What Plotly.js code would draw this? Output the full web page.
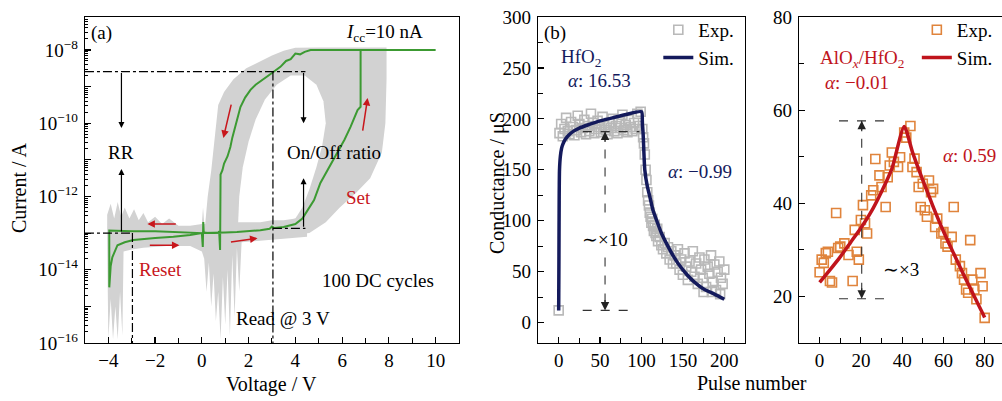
<!DOCTYPE html>
<html><head><meta charset="utf-8">
<script src="https://cdn.plot.ly/plotly-3.0.1.min.js"></script>
<style>html,body{margin:0;padding:0;background:#fff}#chart{width:1002px;height:401px}</style>
</head><body><div id="chart"></div>
<script>
// ---------- Panel (a): I-V, current as log10 exponent ----------
const greenV = [0,0.5,1.0,1.5,2.0,2.5,2.9,3.0,3.1,3.5,4.0,4.3,4.5,4.8,5.07,5.4,5.8,6.1,6.36,6.5,6.66,6.79,6.79,10,
  4.65,4.4,4.2,4.0,3.8,3.6,3.36,3.0,2.5,2.3,2.08,1.85,1.65,1.5,1.37,1.3,1.22,1.1,0.95,0.88,0.8,0.78,0.74,0.7,0.3,0.08,0.06,0.04,0,
  -1,-2,-3,-3.5,-3.96,-3.96,-3.9,-3.83,-3.7,-3.61,-3.3,-2.93,-2.0,-1.22,-0.5,0];
const greenLogI = [-13.0,-13.0,-12.98,-12.97,-12.95,-12.92,-12.88,-12.82,-12.86,-12.83,-12.75,-12.6,-12.4,-12.1,-11.63,-11.25,-10.81,-10.45,-10.1,-9.9,-9.64,-9.55,-8.0,-8.0,
  -8.0,-8.05,-8.12,-8.1,-8.25,-8.3,-8.46,-8.63,-8.85,-8.95,-9.09,-9.3,-9.56,-9.9,-10.27,-10.4,-10.65,-10.9,-11.1,-11.28,-11.4,-13.46,-12.95,-13.0,-13.0,-12.98,-12.7,-13.38,-13.0,
  -12.97,-12.95,-12.95,-12.93,-12.93,-14.48,-13.9,-13.66,-13.45,-13.33,-13.25,-13.19,-13.13,-13.1,-13.05,-13.0];

// gray envelope of the 100 cycles (outline of the shaded region)
const bandV = [0.15,0.25,0.4,0.5,0.6,0.7,0.95,1.35,1.9,2.5,3.0,3.5,4.0,5.0,7.9,7.9,7.85,7.7,7.2,6.6,5.9,5.3,4.6,1.6,0.15];
const bandLogI = [-12.7,-12.0,-11.3,-10.7,-10.0,-9.5,-9.15,-8.8,-8.5,-8.3,-8.15,-8.02,-7.94,-7.93,-7.93,-8.8,-10.0,-10.8,-11.5,-11.9,-12.3,-12.7,-13.0,-13.2,-13.1];
const holeV = [1.55,1.6,1.75,2.0,2.3,2.7,3.2,3.8,4.4,4.9,5.2,5.3,5.15,4.9,4.6,4.3,4.0,3.5,2.5,1.55];
const holeLogI = [-12.75,-12.0,-11.2,-10.5,-9.9,-9.35,-8.95,-8.7,-8.7,-8.95,-9.4,-10.0,-10.6,-11.2,-11.8,-12.3,-12.6,-12.72,-12.75,-12.75];
const floorV = [-4.05,-3.9,-3.75,-3.6,-3.45,-3.3,-3.1,-2.9,-2.7,-2.5,-2.3,-2.0,-1.7,-1.4,-1.0,-0.5,0,0.05,0.1,0.5,1.5,2.5,3.0,3.5,4.0,4.5,
  4.5,3.5,2.5,1.7,1.6,1.5,1.4,1.3,1.2,1.1,1.0,0.9,0.8,0.7,0.6,0.5,0.4,0.3,0.2,0.1,0.0,-0.5,-1.5,-2.5,-3.0,-3.35,-3.4,-3.5,-3.6,-3.7,-3.8,-3.9,-4.0,-4.05];
const floorLogI = [-12.5,-12.2,-12.6,-12.15,-12.55,-12.3,-12.6,-12.35,-12.65,-12.45,-12.7,-12.55,-12.75,-12.6,-12.8,-12.8,-12.75,-12.3,-12.75,-12.7,-12.7,-12.7,-12.65,-12.65,-12.6,-12.5,
  -13.1,-13.15,-13.2,-13.25,-14.6,-13.4,-15.3,-13.6,-15.8,-14.0,-15.5,-14.2,-15.9,-14.6,-15.4,-14.1,-15.0,-13.8,-14.6,-13.7,-13.5,-13.35,-13.35,-13.4,-13.45,-13.5,-15.8,-14.6,-15.9,-15.0,-15.9,-14.8,-15.9,-13.2];

// guide lines (dash-dot)
const onLevel = -8.59, offLevel = -13.0, offLevelR = -12.87, readV = 3.04, resetReadV = -2.97;

// ---------- Panel (b): HfO2 ----------
const bExpX = [0,1,3,5,7,9,11,13,15,17,19,21,23,25,27,29,31,33,35,37,39,41,43,45,47,49,51,53,55,57,59,61,63,65,67,69,71,73,75,77,79,81,83,85,87,89,91,93,95,97,99,
  101,102,103,104,105,106,107,108,109,110,111,112,113,114,115,116,117,118,119,120,122,124,126,128,130,132,134,136,138,
  140,142,144,146,148,150,152,154,156,158,160,162,164,166,168,170,172,174,175,176,178,180,182,184,185,186,188,190,192,194,195,196,198,200];
const bExpY = [12,186,195,183,190,201,188,185,197,192,184,189,203,195,187,191,199,185,193,188,205,196,186,190,198,192,187,202,194,189,185,196,191,200,188,193,186,197,191,204,189,194,187,199,192,188,196,190,205,193,207,
  190,182,176,165,150,140,128,120,115,108,104,98,102,95,90,96,88,85,92,80,84,76,72,78,68,74,62,70,58,
  66,58,72,52,62,47,68,55,42,60,50,70,45,58,38,64,52,44,30,62,35,55,48,66,30,40,57,32,50,60,28,44,38,52];
const bSimX = [0,0.3,0.6,1,2,3.5,5,8,12,18,25,35,50,65,80,100,101,102,104,107,110,114,118,124,130,138,146,155,165,175,188,200];
const bSimY = [12,60,120,150,163,171,175,180,184,188,191,194,198,201,204,207,196,185,150,134,124,110,101,88,78,66,56,47,39,33,28,23];

// ---------- Panel (c): AlOx/HfO2 ----------
const cExpX = [0,1,2,3,4,5,6,8,9,10,12,14,16,17,18,19,20,21,22,23,25,26,27,29,30,32,33,34,35,36,38,39,41,42,44,45,46,47,48,49,50,51,52,53,54,55,56,57,59,60,61,62,64,65,66,68,69,70,71,72,73,74,75,76,78,79,80];
const cExpY = [25.2,27.9,27.2,29.3,29.6,23.3,23.0,37.9,30.4,30.7,31.4,28.9,23.3,34.3,29.6,27.9,36.4,39.6,35.7,33.5,41.7,42.8,49.5,46.0,43.5,39.2,45.6,48.1,50.9,48.9,47.8,49.9,55.2,54.1,56.6,47.8,49.6,46.7,43.5,39.2,44.2,38.5,37.1,44.9,42.4,43.1,34.9,36.7,33.5,33.8,31.4,30.7,32.8,39.2,27.9,26.5,25.0,23.6,21.5,20.8,32.1,23.6,21.5,19.4,25.0,22.2,15.4];
const cSimX = [0,5,10,15,20,25,30,35,41,45,50,55,60,65,70,75,80];
const cSimY = [23,25.7,28.5,31.6,34.7,38.2,42.5,47.4,56.5,51,45,39.3,34,29.2,24.5,20,15.5];

const pow10 = a => a.map(v => Math.pow(10, v));
const SERIF = 'Liberation Serif, Times New Roman, serif';
const GRAY = '#d2d2d2', GREEN = '#3c9a32', RED = '#c8161c', NAVY = '#141a5c', ORANGE = '#e0843c', CRED = '#c0141c';

const traces = [
  {x: bandV, y: pow10(bandLogI), xaxis:'x', yaxis:'y', mode:'lines', fill:'toself', fillcolor:GRAY, line:{width:0, color:GRAY}, showlegend:false, hoverinfo:'skip'},
  {x: holeV, y: pow10(holeLogI), xaxis:'x', yaxis:'y', mode:'lines', fill:'toself', fillcolor:'#ffffff', line:{width:0, color:'#fff'}, showlegend:false, hoverinfo:'skip'},
  {x: floorV, y: pow10(floorLogI), xaxis:'x', yaxis:'y', mode:'lines', fill:'toself', fillcolor:GRAY, line:{width:0, color:GRAY}, showlegend:false, hoverinfo:'skip'},
  {x: greenV, y: pow10(greenLogI), xaxis:'x', yaxis:'y', mode:'lines', line:{color:GREEN, width:2}, showlegend:false},
  // dash-dot guides
  {x:[-5, 4.43], y:pow10([onLevel,onLevel]), xaxis:'x', yaxis:'y', mode:'lines', line:{color:'#000', width:1.2, dash:'dashdot'}, showlegend:false},
  {x:[readV, readV], y:pow10([onLevel,-16]), xaxis:'x', yaxis:'y', mode:'lines', line:{color:'#000', width:1.2, dash:'dashdot'}, showlegend:false},
  {x:[-5, resetReadV], y:pow10([offLevel,offLevel]), xaxis:'x', yaxis:'y', mode:'lines', line:{color:'#000', width:1.2, dash:'dashdot'}, showlegend:false},
  {x:[resetReadV, resetReadV], y:pow10([offLevel,-16]), xaxis:'x', yaxis:'y', mode:'lines', line:{color:'#000', width:1.2, dash:'dashdot'}, showlegend:false},
  {x:[readV, 4.43], y:pow10([offLevelR,offLevelR]), xaxis:'x', yaxis:'y', mode:'lines', line:{color:'#000', width:1.2, dash:'dashdot'}, showlegend:false},
  // panel b
  {x:bExpX, y:bExpY, xaxis:'x2', yaxis:'y2', mode:'markers', name:'Exp.', legend:'legend',
   marker:{symbol:'square-open', size:9, color:'#b9b9b9', line:{width:1.6}}},
  {x:bSimX, y:bSimY, xaxis:'x2', yaxis:'y2', mode:'lines', name:'Sim.', legend:'legend', line:{color:NAVY, width:3.5, shape:'spline', smoothing:0.6}},
  // panel c
  {x:cExpX, y:cExpY, xaxis:'x3', yaxis:'y3', mode:'markers', name:'Exp.', legend:'legend2',
   marker:{symbol:'square-open', size:9, color:ORANGE, line:{width:1.6}}},
  {x:cSimX, y:cSimY, xaxis:'x3', yaxis:'y3', mode:'lines', name:'Sim.', legend:'legend2', line:{color:CRED, width:3.5, shape:'spline', smoothing:0.6}}
];

const tickfont = {family:SERIF, size:19, color:'#000'};
const base = {showline:true, linecolor:'#000', linewidth:1.2, ticks:'inside', ticklen:6, tickwidth:1.2, tickcolor:'#000',
  showgrid:false, zeroline:false, tickfont:tickfont, fixedrange:true};
const minor = (d) => ({ticks:'inside', ticklen:5, tickwidth:1, tickcolor:'#000', dtick:d, showgrid:false});
const yDom = [0.1446, 0.9576];
const xs = {ticklabelstandoff:0};
const ys = {ticklabelstandoff:2};

const decades = [-16,-15,-14,-13,-12,-11,-10,-9,-8];
const layout = {
  width:1002, height:401, margin:{l:0,r:0,t:0,b:0}, paper_bgcolor:'#fff', plot_bgcolor:'#fff',
  font:{family:SERIF, color:'#000'},
  xaxis: Object.assign({}, base, xs, {domain:[0.0848,0.4581], anchor:'y', range:[-5,11], tickvals:[-4,-2,0,2,4,6,8,10], ticktext:['−4','−2','0','2','4','6','8','10'], minor:minor(1), mirror:true}),
  yaxis: Object.assign({}, base, ys, {domain:yDom, anchor:'x', type:'log', range:[-16,-7.1], tickmode:'array',
     tickvals: decades.map(d => Math.pow(10,d)),
     ticktext: decades.map(d => d % 2 === 0 ? '10<sup>−' + (-d) + '</sup>' : ''),
     minor:{ticks:'inside', ticklen:3, tickwidth:1, tickcolor:'#000', dtick:'D1', showgrid:false}, mirror:true}),
  xaxis2: Object.assign({}, base, xs, {domain:[0.5369,0.7435], anchor:'y2', range:[-25,225], dtick:50, tick0:0, minor:minor(25), mirror:true}),
  yaxis2: Object.assign({}, base, ys, {domain:yDom, anchor:'x2', range:[-20,300], dtick:50, tick0:0, minor:minor(25), mirror:true}),
  xaxis3: Object.assign({}, base, xs, {domain:[0.7974,1.0], anchor:'y3', range:[-10,88.4], dtick:20, tick0:0, minor:minor(10), mirror:true}),
  yaxis3: Object.assign({}, base, ys, {domain:yDom, anchor:'x3', range:[10,80], dtick:20, tick0:0, minor:minor(10), mirror:false}),
  legend: {x:0.657, y:0.973, xanchor:'left', yanchor:'top', bgcolor:'rgba(0,0,0,0)', font:{family:SERIF, size:19, color:'#000'}, tracegroupgap:0, itemwidth:30},
  legend2: {x:0.915, y:0.973, xanchor:'left', yanchor:'top', bgcolor:'rgba(0,0,0,0)', font:{family:SERIF, size:19, color:'#000'}, tracegroupgap:0, itemwidth:30},
  shapes: [
    {type:'line', xref:'x2', yref:'y2', x0:29, x1:97.6, y0:187.5, y1:187.5, line:{color:'#333', width:1.1, dash:'dash'}},
    {type:'line', xref:'x2', yref:'y2', x0:29, x1:88, y0:12, y1:12, line:{color:'#333', width:1.1, dash:'dash'}},
    {type:'line', xref:'x2', yref:'y2', x0:56, x1:56, y0:187.5, y1:104, line:{color:'#333', width:1.1, dash:'dash'}},
    {type:'line', xref:'x2', yref:'y2', x0:56, x1:56, y0:64, y1:12, line:{color:'#333', width:1.1, dash:'dash'}},
    {type:'line', xref:'x3', yref:'y3', x0:9.4, x1:32.8, y0:57.7, y1:57.7, line:{color:'#333', width:1.1, dash:'dash'}},
    {type:'line', xref:'x3', yref:'y3', x0:9.4, x1:32.8, y0:19.5, y1:19.5, line:{color:'#333', width:1.1, dash:'dash'}},
    {type:'line', xref:'x3', yref:'y3', x0:20.4, x1:20.4, y0:57.7, y1:19.5, line:{color:'#333', width:1.1, dash:'dash'}}
  ],
  annotations: []
};

const A = layout.annotations;
function txt(xref, yref, x, y, text, color, size) {
  A.push({xref, yref, x, y, text, showarrow:false, font:{family:SERIF, size:size||19, color:color||'#000'}, xanchor:'center', yanchor:'middle'});
}
function arr(xref, yref, x, y, ax, ay, color, w) {
  A.push({xref, yref, x, y, ax, ay, axref:xref, ayref:yref, text:'', showarrow:true, arrowhead:2, arrowsize:1, arrowwidth:w||1.2, arrowcolor:color||'#000'});
}
function head(xref, yref, x, y, dy) {
  A.push({xref, yref, x, y, ax:0, ay:dy, text:'', showarrow:true, arrowhead:2, arrowsize:1.4, arrowwidth:1.2, arrowcolor:'#222'});
}
// panel a
txt('x','y',-4.3,-7.54,'(a)');
txt('x','y',7.82,-7.54,'<i>I</i><sub>cc</sub>=10 nA');
txt('x','y',-3.44,-10.79,'RR');
txt('x','y',5.67,-10.81,'On/Off ratio');
txt('x','y',6.7,-12.04,'Set',RED);
txt('x','y',-1.77,-14.0,'Reset',RED);
txt('x','y',7.52,-14.28,'100 DC cycles');
txt('x','y',3.45,-15.32,'Read @ 3 V');
arr('x','y',-3.44,-10.13,-3.44,onLevel);
arr('x','y',-3.44,-11.25,-3.44,offLevel);
arr('x','y',4.35,-10.0,4.35,onLevel);
arr('x','y',4.35,-11.5,4.35,offLevelR);
arr('x','y',0.92,-10.4,1.27,-9.45,RED,1.5);
arr('x','y',7.09,-9.31,6.87,-10.24,RED,1.5);
arr('x','y',-2.33,-12.75,-1.05,-12.75,RED,1.5);
arr('x','y',-0.96,-13.33,-2.29,-13.33,RED,1.5);
arr('x','y',2.38,-13.14,1.18,-13.25,RED,1.5);
// panel b
txt('x2','y2',-4.8,284,'(b)');
txt('x2','y2',26.5,260,'HfO<sub>2</sub>',NAVY);
txt('x2','y2',49.4,238,'<i>α</i>: 16.53',NAVY);
txt('x2','y2',171,148,'<i>α</i>: −0.99',NAVY);
txt('x2','y2',55.4,81.4,'∼×10');
head('x2','y2',56,187.5,12);
head('x2','y2',56,12,-12);
// panel c
txt('x3','y3',20.4,71.0,'AlO<sub><i>x</i></sub>/HfO<sub>2</sub>',CRED);
txt('x3','y3',17.9,66.0,'<i>α</i>: −0.01',CRED);
txt('x3','y3',72.7,50.2,'<i>α</i>: 0.59',CRED);
txt('x3','y3',39.3,25.7,'∼×3');
head('x3','y3',20.4,57.7,12);
head('x3','y3',20.4,19.5,-12);
// axis titles
const ttl = (x, y, text, angle) => A.push({xref:'paper', yref:'paper', x, y, text, textangle:angle||0, showarrow:false,
  xanchor:'center', yanchor:'middle', font:{family:SERIF, size:20, color:'#000'}});
ttl(0.2705, 0.040, 'Voltage / V');
ttl(0.7505, 0.045, 'Pulse number');
ttl(0.019, 0.531, 'Current / A', -90);
ttl(0.496, 0.5436, 'Conductance / μS', -90);

Plotly.newPlot('chart', traces, layout, {staticPlot:true, displayModeBar:false});
</script>
</body></html>
